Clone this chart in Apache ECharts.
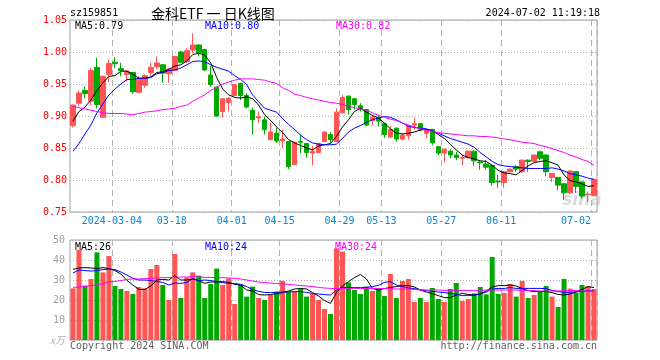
<!DOCTYPE html>
<html><head><meta charset="utf-8">
<script src="https://cdn.jsdelivr.net/npm/echarts@6/dist/echarts.min.js"></script>
<style>html,body{margin:0;padding:0;background:#fff}#c{width:660px;height:360px}</style>
</head><body><div id="c"></div>
<script>
const dates = ['2024-02-22','2024-02-23','2024-02-26','2024-02-27','2024-02-28','2024-02-29','2024-03-01',
'2024-03-04','2024-03-05','2024-03-06','2024-03-07','2024-03-08','2024-03-11','2024-03-12','2024-03-13','2024-03-14','2024-03-15',
'2024-03-18','2024-03-19','2024-03-20','2024-03-21','2024-03-22','2024-03-25','2024-03-26','2024-03-27','2024-03-28','2024-03-29',
'2024-04-01','2024-04-02','2024-04-03','2024-04-08','2024-04-09','2024-04-10','2024-04-11','2024-04-12','2024-04-15','2024-04-16',
'2024-04-17','2024-04-18','2024-04-19','2024-04-22','2024-04-23','2024-04-24','2024-04-25','2024-04-26','2024-04-29','2024-04-30',
'2024-05-06','2024-05-07','2024-05-08','2024-05-09','2024-05-10','2024-05-13','2024-05-14','2024-05-15','2024-05-16','2024-05-17',
'2024-05-20','2024-05-21','2024-05-22','2024-05-23','2024-05-24','2024-05-27','2024-05-28','2024-05-29','2024-05-30','2024-05-31',
'2024-06-03','2024-06-04','2024-06-05','2024-06-06','2024-06-07','2024-06-11','2024-06-12','2024-06-13','2024-06-14','2024-06-17',
'2024-06-18','2024-06-19','2024-06-20','2024-06-21','2024-06-24','2024-06-25','2024-06-26','2024-06-27','2024-06-28','2024-07-01','2024-07-02'];

const opens = [.885,.920,.940,.923,.976,.898,.965,.984,.974,.965, .968,.937,.948,.968,.977,.980,.966,.971,1.000,.985,
1.003,1.011,1.004,.964,.945,.907,.921,.932,.951,.932, .909,.897,.894,.863,.873,.861,.860,.824,.860,.857,
.842,.843,.860,.871,.860,.905,.931,.927,.916,.910, .893,.897,.888,.867,.881,.864,.869,.886,.888,.873,
.879,.852,.842,.845,.839,.834,.835,.845,.828,.825, .823,.798,.796,.813,.821,.813,.831,.829,.844,.839,
.804,.804,.794,.780,.813,.797,.777,.776];
const closes = [.917,.936,.935,.971,.918,.962,.982,.982,.971,.970, .938,.957,.963,.976,.983,.967,.973,.993,.984,1.002,
1.011,.999,.972,.949,.900,.927,.928,.949,.932,.914, .894,.899,.879,.875,.861,.864,.821,.859,.859,.843,
.845,.857,.875,.863,.906,.929,.910,.918,.911,.886, .898,.892,.871,.879,.864,.870,.884,.888,.879,.879,
.858,.842,.848,.839,.835,.835,.845,.830,.827,.820, .796,.797,.813,.817,.817,.831,.829,.839,.834,.813,
.810,.792,.780,.814,.790,.775,.778,.801];
const lows = [.882,.916,.928,.917,.912,.897,.953,.975,.962,.954, .935,.936,.944,.962,.973,.952,.952,.970,.983,.983,
.998,.993,.970,.946,.899,.898,.907,.931,.925,.912, .871,.889,.871,.863,.858,.850,.817,.823,.842,.835,
.823,.842,.859,.858,.859,.904,.902,.910,.907,.884, .886,.884,.866,.866,.860,.862,.863,.879,.876,.865,
.855,.839,.827,.834,.831,.823,.834,.822,.816,.816, .791,.788,.788,.812,.813,.811,.813,.828,.831,.806,
.797,.784,.769,.778,.780,.771,.766,.775];
const highs = [.918,.940,.946,.975,.991,.963,.988,.992,.983,.972, .969,.962,.965,.983,.993,.981,.975,.994,1.002,1.006,
1.029,1.012,1.005,.978,.946,.928,.929,.950,.952,.935, .913,.907,.899,.890,.882,.879,.861,.860,.871,.858,
.853,.858,.876,.875,.912,.933,.932,.928,.920,.911, .902,.902,.889,.885,.882,.873,.885,.897,.889,.880,
.880,.853,.849,.848,.844,.839,.846,.846,.831,.831, .824,.808,.814,.818,.823,.832,.832,.840,.846,.840,
.811,.805,.795,.815,.814,.798,.782,.802];

const ma5 = [.892,.907,.914,.925,.940,.952,.962,.963,.970,.970, .965,.959,.959,.961,.968,.969,.973,.978,.980,.986,
.996,.998,.995,.983,.960,.942,.933,.929,.928,.930, .927,.917,.902,.893,.883,.874,.863,.858,.854,.850,
.847,.853,.855,.857,.868,.883,.894,.907,.912,.906, .901,.897,.889,.880,.873,.872,.873,.875,.878,.879,
.877,.871,.865,.856,.847,.839,.835,.833,.830,.829, .823,.815,.811,.810,.808,.815,.822,.827,.829,.830,
.827,.823,.808,.799,.797,.794,.790,.791];
const ma10 = [.845,.857,.872,.886,.905,.919,.933,.942,.950,.957, .957,.959,.959,.960,.966,.968,.971,.972,.975,.980,
.985,.986,.985,.980,.976,.973,.970,.963,.957,.949, .933,.922,.912,.909,.906,.896,.887,.879,.870,.863,
.858,.856,.855,.855,.856,.865,.875,.881,.885,.890, .894,.897,.899,.898,.894,.889,.884,.882,.881,.880,
.877,.873,.869,.865,.862,.859,.856,.851,.843,.836, .829,.824,.822,.821,.820,.819,.818,.818,.818,.818,
.819,.817,.814,.810,.808,.806,.803,.801];
const ma30 = [.915,.913,.911,.909,.907,.905,.904,.904,.904,.903, .902,.904,.906,.907,.908,.910,.911,.912,.915,.917,
.923,.928,.933,.940,.945,.950,.953,.956,.958,.958, .958,.957,.956,.953,.951,.944,.940,.934,.932,.929,
.927,.925,.923,.921,.920,.918,.915,.913,.911,.909, .905,.901,.898,.895,.893,.889,.886,.883,.880,.878,
.876,.874,.873,.872,.871,.870,.869,.869,.868,.868, .867,.866,.864,.863,.861,.859,.858,.857,.854,.852,
.849,.846,.843,.839,.836,.832,.829,.823];

const volumes = [25.8,45,27.2,30.5,43.8,33.8,42,27,25.5,24.5, 23,26.5,25.8,35.5,37.5,27.5,20,43,21,31.3,
33.8,32.2,21,28,35.7,27.5,30.8,18,27.8,21.7, 26.7,21,20,22.5,24.2,29.5,24.2,24.2,25.8,21.7,
23,20,15.5,13,45.8,44.2,28.8,25,23,26.7, 24.5,25.8,22,33,21,29.5,30.5,19,21,19,
26,20.5,19,25.5,28.5,19.5,20.5,23.3,26.5,22.8, 41.5,23,23.5,28,21.7,29.5,21,22.5,24,27,
21.7,16.5,30.5,25.7,23.7,27.5,27,25.5];
const vma5 = [35.3,36,36.2,36,35.7,36.2,35.7,34.7,33,29.8, 27.5,25.3,25.3,27,30,30.3,30,32.2,30,30,
30.5,29.7,28.3,29,29,29.2,28.8,27.8,27.5,25, 24.5,22.7,22.5,22.7,23.2,23.7,24.5,25.5,25.8,25.5,
23.7,22,19.7,18.3,23.8,27,29.2,31.2,32.8,30.5, 25.8,25,25.7,26.3,26.7,27.2,27.2,26.5,25,24,
23.2,22.2,21.2,21.2,22.5,23.3,22.8,22.5,23,24.5, 26.5,27.2,27.2,27.5,27,25.7,24.7,24.2,24.2,24.3,
23.7,22.8,22.5,23,24,25.2,26.7,26.2];
const vma10 = [33.5,35,34.7,34.5,34.7,35.2,35.5,35.2,34,32.5, 30.8,30,30,29.7,29.2,28.8,27.5,28.5,28.3,28.8,
30.7,29.7,30,29.7,29.2,28.7,28.3,28.3,27.8,26.7, 25.2,24.3,23.8,23.7,23.8,24,24,24.2,24.2,23.8,
23.3,23,22.7,22.5,25,26.3,26.3,26.2,26.2,26.3, 26.7,27.3,28.8,29.2,27.5,26.7,26,25.7,25.2,24.7,
24.3,24,23.7,23.3,22.8,22.2,22.2,22.5,23,24, 25.5,25.8,25.8,26.2,25.8,25.8,25.8,25.8,25.8,25.7,
24.8,24.2,23.8,23.8,24.2,24.2,24.7,24.4];
const vma30 = [26.3,26.5,26.8,27.2,27.5,28.2,29.2,29.3,29.7,30.3, 30.5,30.5,30.7,30.8,31,31.2,31.2,31.3,31.5,31.5,
31.7,31.5,31.3,31.3,31.2,31.2,31,30.8,30.5,30, 29.5,29,28.7,28.5,28.2,28,27.8,27.5,27.2,27,
26.7,26.3,26,25.8,25.7,25.8,25.8,25.8,25.8,25.8, 25.8,25.7,25.7,25.7,25.5,25.5,25.5,25.3,25,25,
25,25,24.8,24.8,24.8,24.7,24.7,24.7,24.8,25, 25,25,25,25,25,24.8,24.7,24.7,24.5,24.5,
24.5,24.5,24.7,24.7,24.7,24.5,24.5,24.4];

const labelDates = ['2024-03-04','2024-03-18','2024-04-01','2024-04-15','2024-04-29','2024-05-13','2024-05-27','2024-06-11','2024-07-02'];
const labelTexts = ['2024-03-04','03-18','04-01','04-15','04-29','05-13','05-27','06-11','07-02'];
const priceTicks = [0.75,0.80,0.85,0.90,0.95,1.00,1.05];
const volTicks = [0,10,20,30,40,50];

const UP = '#ff5555', DOWN = '#00a800';
const MONO = '"DejaVu Sans Mono", monospace';
const labelMap = {};
labelDates.forEach((d,i)=>{ labelMap[d] = labelTexts[i]; });
const isLabel = (idx) => labelMap[dates[idx]] !== undefined;
const lastDate = labelDates[labelDates.length-1];

const kData = dates.map((d,i)=>[opens[i],closes[i],lows[i],highs[i]]);
const volData = volumes.map((v,i)=>({value:v,itemStyle:{color: closes[i]>=opens[i]?UP:DOWN}}));

const chart = echarts.init(document.getElementById('c'), null, {renderer:'canvas'});
const splitV = {show:true, interval:(i)=>isLabel(i), lineStyle:{color:'#b4b4b4', type:[6,4], width:1}};
const splitH = {show:true, lineStyle:{color:'#b0b0b0', type:[1,2], width:1}};
const lineS = (name, data, color, xi) => ({name, type:'line', data, xAxisIndex:xi, yAxisIndex:xi, symbol:'none',
  showSymbol:false, lineStyle:{color, width:1}, itemStyle:{color}, silent:true, z:5});

chart.setOption({
  animation:false,
  backgroundColor:'#fff',
  grid:[
    {left:70, top:20, width:527, height:192, show:true, borderColor:'#a0a0a0', borderWidth:1, outerBoundsMode:'none'},
    {left:70, top:240, width:527, height:100, show:true, borderColor:'#a0a0a0', borderWidth:1, outerBoundsMode:'none'}
  ],
  xAxis:[
    {type:'category', gridIndex:0, data:dates, boundaryGap:true,
     axisLine:{show:false}, axisTick:{show:false}, splitLine:splitV,
     axisLabel:{show:true, interval:(i)=>isLabel(i), margin:4, color:'#0a84d0', fontFamily:MONO, fontSize:10,
       formatter:(v)=> v===lastDate ? '{e|'+labelMap[v]+'}' : '{a|'+labelMap[v]+'}',
       rich:{a:{fontFamily:MONO, fontSize:10, color:'#0a84d0', padding:[0,6,0,0]},
             e:{fontFamily:MONO, fontSize:10, color:'#0a84d0', padding:[0,36,0,0]}}}},
    {type:'category', gridIndex:1, data:dates, boundaryGap:true,
     axisLine:{show:false}, axisTick:{show:false}, axisLabel:{show:false}, splitLine:splitV}
  ],
  yAxis:[
    {type:'value', gridIndex:0, min:priceTicks[0], max:priceTicks[priceTicks.length-1], interval:0.05, scale:true,
     axisLine:{show:false}, axisTick:{show:false}, splitLine:splitH,
     axisLabel:{color:'#ff0000', fontFamily:MONO, fontSize:10, margin:3, formatter:(v)=>v.toFixed(2)}},
    {type:'value', gridIndex:1, min:volTicks[0], max:volTicks[volTicks.length-1], interval:10,
     axisLine:{show:false}, axisTick:{show:false}, splitLine:splitH,
     axisLabel:{color:'#a0a0a0', fontFamily:MONO, fontSize:10, margin:5,
       formatter:(v)=> v===0 ? '{u|x万}' : String(v),
       rich:{u:{color:'#b0b0b0', fontSize:10, fontStyle:'italic', fontFamily:'"Noto Sans CJK SC", sans-serif'}}}}
  ],
  series:[
    {name:'K', type:'candlestick', xAxisIndex:0, yAxisIndex:0, data:kData, barWidth:5, z:3,
     itemStyle:{color:UP, color0:DOWN, borderColor:UP, borderColor0:DOWN, borderWidth:1}},
    lineS('MA5', ma5, '#000000', 0),
    lineS('MA10', ma10, '#0000ff', 0),
    lineS('MA30', ma30, '#ff00ff', 0),
    {name:'VOL', type:'bar', xAxisIndex:1, yAxisIndex:1, data:volData, barWidth:5, z:3},
    lineS('VMA5', vma5, '#000000', 1),
    lineS('VMA10', vma10, '#0000ff', 1),
    lineS('VMA30', vma30, '#ff00ff', 1)
  ],
  graphic:[
    {type:'text', x:582, y:201, z:1, style:{text:'sina', font:'italic bold 17px "DejaVu Sans", sans-serif', fill:'rgba(190,190,190,0.55)', align:'center', verticalAlign:'middle'}},
    {type:'text', x:70, y:13, z:50, style:{text:'sz159851', font:'10px '+MONO, fill:'#000', align:'left', verticalAlign:'middle'}},
    {type:'text', x:151, y:14, z:50, style:{text:'金科ETF 一 日K线图', font:'14px "Noto Sans CJK SC", sans-serif', fill:'#000', align:'left', verticalAlign:'middle'}},
    {type:'text', x:600, y:13, z:50, style:{text:'2024-07-02 11:19:18', font:'10px '+MONO, fill:'#000', align:'right', verticalAlign:'middle'}},
    {type:'text', x:75, y:26, z:50, style:{text:'MA5:0.79', font:'10px '+MONO, fill:'#000', align:'left', verticalAlign:'middle'}},
    {type:'text', x:205, y:26, z:50, style:{text:'MA10:0.80', font:'10px '+MONO, fill:'#0000ff', align:'left', verticalAlign:'middle'}},
    {type:'text', x:336, y:26, z:50, style:{text:'MA30:0.82', font:'10px '+MONO, fill:'#ff00ff', align:'left', verticalAlign:'middle'}},
    {type:'text', x:75, y:247, z:50, style:{text:'MA5:26', font:'10px '+MONO, fill:'#000', align:'left', verticalAlign:'middle'}},
    {type:'text', x:205, y:247, z:50, style:{text:'MA10:24', font:'10px '+MONO, fill:'#0000ff', align:'left', verticalAlign:'middle'}},
    {type:'text', x:335, y:247, z:50, style:{text:'MA30:24', font:'10px '+MONO, fill:'#ff00ff', align:'left', verticalAlign:'middle'}},
    {type:'text', x:70, y:346, z:50, style:{text:'Copyright 2024 SINA.COM', font:'10px '+MONO, fill:'#606060', align:'left', verticalAlign:'middle'}},
    {type:'text', x:597, y:346, z:50, style:{text:'http://finance.sina.com.cn', font:'10px '+MONO, fill:'#606060', align:'right', verticalAlign:'middle'}}
  ]
});
</script>
</body></html>
